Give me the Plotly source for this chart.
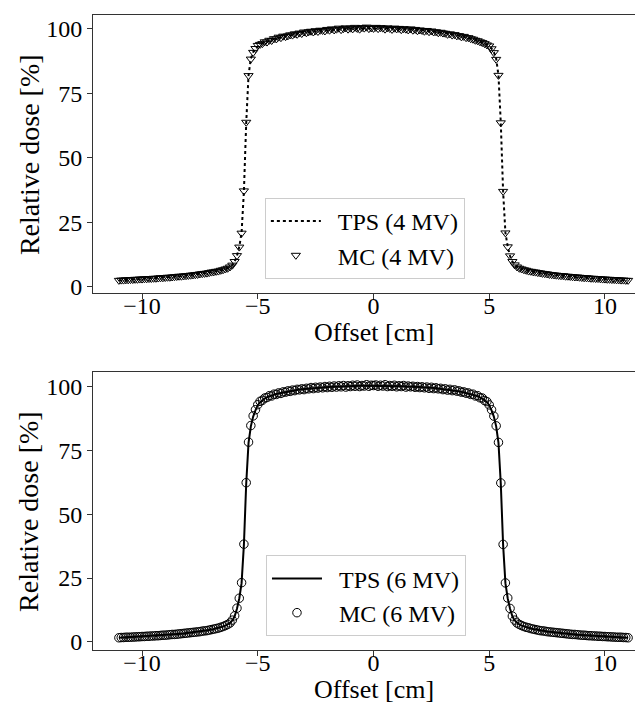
import numpy as np
import plotly.graph_objects as go

# Sampling grid of the profiles (cm), 0.1 cm spacing from -11 to 11
offset_cm = np.round(np.arange(-110, 111) / 10.0, 1)

tps_4mv = [
    2.5, 2.55, 2.6, 2.65, 2.7, 2.75, 2.8, 2.85, 2.9, 2.95,
    3.0, 3.05, 3.1, 3.16, 3.22, 3.28, 3.34, 3.4, 3.47, 3.54,
    3.6, 3.67, 3.74, 3.82, 3.9, 3.98, 4.06, 4.15, 4.24, 4.33,
    4.42, 4.52, 4.62, 4.73, 4.84, 4.96, 5.08, 5.21, 5.35, 5.5,
    5.65, 5.8, 5.97, 6.15, 6.36, 6.6, 6.88, 7.22, 7.7, 8.5,
    9.8, 12.0, 15.5, 21.0, 37.0, 63.5, 82.0, 88.5, 91.0, 92.4,
    93.3, 93.9, 94.4, 94.8, 95.2, 95.5, 95.8, 96.1, 96.4, 96.6,
    96.8, 97.0, 97.2, 97.4, 97.6, 97.8, 97.9, 98.1, 98.3, 98.4,
    98.6, 98.7, 98.8, 98.9, 99.0, 99.1, 99.2, 99.3, 99.4, 99.5,
    99.6, 99.6, 99.7, 99.7, 99.8, 99.9, 99.9, 100.0, 100.0, 100.0,
    100.1, 100.1, 100.1, 100.2, 100.2, 100.2, 100.2, 100.3, 100.3, 100.3,
    100.3,
    100.3, 100.3, 100.3, 100.2, 100.2, 100.2, 100.2, 100.1, 100.1, 100.1,
    100.0, 100.0, 100.0, 99.9, 99.9, 99.8, 99.7, 99.7, 99.6, 99.6,
    99.5, 99.4, 99.3, 99.2, 99.1, 99.0, 98.9, 98.8, 98.7, 98.6,
    98.4, 98.3, 98.1, 97.9, 97.8, 97.6, 97.4, 97.2, 97.0, 96.8,
    96.6, 96.4, 96.1, 95.8, 95.5, 95.2, 94.8, 94.4, 93.9, 93.3,
    92.4, 91.0, 88.5, 82.0, 63.5, 37.0, 21.0, 15.5, 12.0, 9.8,
    8.5, 7.7, 7.22, 6.88, 6.6, 6.36, 6.15, 5.97, 5.8, 5.65,
    5.5, 5.35, 5.21, 5.08, 4.96, 4.84, 4.73, 4.62, 4.52, 4.42,
    4.33, 4.24, 4.15, 4.06, 3.98, 3.9, 3.82, 3.74, 3.67, 3.6,
    3.54, 3.47, 3.4, 3.34, 3.28, 3.22, 3.16, 3.1, 3.05, 3.0,
    2.95, 2.9, 2.85, 2.8, 2.75, 2.7, 2.65, 2.6, 2.55, 2.5,
]

mc_4mv = [
    2.5, 2.6, 2.6, 2.7, 2.7, 2.8, 2.8, 2.9, 2.9, 3.0,
    3.0, 3.1, 3.1, 3.2, 3.2, 3.3, 3.3, 3.4, 3.5, 3.5,
    3.6, 3.7, 3.7, 3.8, 3.9, 4.0, 4.1, 4.1, 4.2, 4.3,
    4.4, 4.5, 4.6, 4.7, 4.8, 5.0, 5.1, 5.2, 5.3, 5.5,
    5.7, 5.8, 6.0, 6.1, 6.4, 6.6, 6.9, 7.2, 7.7, 8.4,
    9.8, 12.1, 15.4, 20.8, 37.2, 63.8, 81.9, 88.3, 90.9, 92.4,
    93.6, 94.0, 94.3, 95.0, 94.9, 95.6, 95.5, 96.2, 96.1, 96.8,
    96.6, 97.2, 97.0, 97.3, 97.7, 97.6, 98.1, 97.9, 98.4, 98.2,
    98.8, 98.5, 98.9, 99.1, 98.8, 99.3, 99.0, 99.5, 99.4, 99.2,
    99.8, 99.5, 100.0, 99.6, 99.9, 100.3, 99.7, 100.1, 100.4, 99.9,
    100.3, 100.0, 100.6, 100.2, 99.9, 100.5, 100.3, 100.7, 100.1, 100.4,
    100.2,
    100.6, 100.1, 100.5, 100.3, 99.9, 100.4, 100.2, 99.8, 100.3, 100.0,
    100.2, 99.7, 100.1, 99.9, 99.6, 100.0, 99.5, 99.8, 99.3, 99.6,
    99.4, 99.1, 99.4, 98.9, 99.2, 98.8, 98.9, 98.5, 98.7, 98.4,
    98.3, 97.9, 98.1, 97.6, 97.8, 97.3, 97.4, 96.9, 97.1, 96.6,
    96.6, 96.2, 96.0, 95.6, 95.4, 95.0, 94.7, 94.3, 93.8, 93.4,
    92.3, 90.8, 88.2, 82.0, 63.6, 37.0, 20.9, 15.5, 12.0, 9.8,
    8.5, 7.7, 7.2, 6.9, 6.6, 6.4, 6.1, 6.0, 5.8, 5.7,
    5.5, 5.4, 5.2, 5.1, 5.0, 4.8, 4.7, 4.6, 4.5, 4.4,
    4.3, 4.3, 4.1, 4.1, 4.0, 3.9, 3.8, 3.8, 3.7, 3.6,
    3.5, 3.5, 3.4, 3.3, 3.3, 3.2, 3.2, 3.1, 3.0, 3.0,
    2.9, 2.9, 2.8, 2.8, 2.7, 2.7, 2.6, 2.6, 2.5, 2.5,
]

tps_6mv = [
    1.6, 1.65, 1.7, 1.74, 1.78, 1.82, 1.86, 1.9, 1.95, 2.0,
    2.05, 2.1, 2.15, 2.2, 2.26, 2.32, 2.38, 2.44, 2.5, 2.57,
    2.64, 2.71, 2.78, 2.86, 2.94, 3.02, 3.1, 3.19, 3.28, 3.38,
    3.48, 3.58, 3.69, 3.8, 3.92, 4.04, 4.17, 4.3, 4.45, 4.6,
    4.8, 5.0, 5.2, 5.45, 5.7, 6.0, 6.35, 6.8, 7.4, 8.4,
    10.0, 13.0, 17.0, 23.0, 38.0, 62.0, 78.0, 84.5, 88.3, 90.8,
    92.8, 94.0, 94.8, 95.4, 95.9, 96.3, 96.6, 96.9, 97.2, 97.4,
    97.6, 97.8, 98.0, 98.2, 98.4, 98.5, 98.7, 98.8, 98.9, 99.0,
    99.1, 99.2, 99.3, 99.4, 99.5, 99.6, 99.6, 99.7, 99.8, 99.8,
    99.9, 99.9, 100.0, 100.0, 100.1, 100.1, 100.1, 100.2, 100.2, 100.2,
    100.3, 100.3, 100.3, 100.3, 100.4, 100.4, 100.4, 100.4, 100.4, 100.4,
    100.4,
    100.4, 100.4, 100.4, 100.4, 100.4, 100.4, 100.3, 100.3, 100.3, 100.3,
    100.2, 100.2, 100.2, 100.1, 100.1, 100.1, 100.0, 100.0, 99.9, 99.9,
    99.8, 99.8, 99.7, 99.6, 99.6, 99.5, 99.4, 99.3, 99.2, 99.1,
    99.0, 98.9, 98.8, 98.7, 98.5, 98.4, 98.2, 98.0, 97.8, 97.6,
    97.4, 97.2, 96.9, 96.6, 96.3, 95.9, 95.4, 94.8, 94.0, 92.8,
    90.8, 88.3, 84.5, 78.0, 62.0, 38.0, 23.0, 17.0, 13.0, 10.0,
    8.4, 7.4, 6.8, 6.35, 6.0, 5.7, 5.45, 5.2, 5.0, 4.8,
    4.6, 4.45, 4.3, 4.17, 4.04, 3.92, 3.8, 3.69, 3.58, 3.48,
    3.38, 3.28, 3.19, 3.1, 3.02, 2.94, 2.86, 2.78, 2.71, 2.64,
    2.57, 2.5, 2.44, 2.38, 2.32, 2.26, 2.2, 2.15, 2.1, 2.05,
    2.0, 1.95, 1.9, 1.86, 1.82, 1.78, 1.74, 1.7, 1.65, 1.6,
]

mc_6mv = [
    1.6, 1.7, 1.7, 1.8, 1.8, 1.8, 1.9, 1.9, 2.0, 2.0,
    2.1, 2.1, 2.2, 2.2, 2.3, 2.3, 2.4, 2.4, 2.5, 2.6,
    2.6, 2.7, 2.8, 2.9, 2.9, 3.0, 3.1, 3.2, 3.3, 3.4,
    3.5, 3.6, 3.7, 3.8, 3.9, 4.0, 4.2, 4.3, 4.4, 4.6,
    4.8, 5.0, 5.2, 5.4, 5.7, 6.0, 6.4, 6.8, 7.4, 8.5,
    10.2, 13.2, 17.1, 23.2, 38.3, 62.4, 78.3, 84.8, 88.6, 91.0,
    93.0, 94.3, 94.7, 95.6, 95.8, 96.5, 96.4, 97.1, 97.0, 97.6,
    97.4, 98.0, 97.9, 98.4, 98.2, 98.7, 98.5, 99.0, 98.8, 99.2,
    98.9, 99.4, 99.2, 99.7, 99.3, 99.8, 99.5, 99.9, 99.6, 100.1,
    99.7, 100.2, 99.8, 100.3, 99.9, 100.4, 100.0, 100.5, 99.9, 100.4,
    100.1, 100.6, 100.2, 100.7, 100.1, 100.5, 100.3, 100.8, 100.2, 100.6,
    100.5,
    100.7, 100.2, 100.6, 100.3, 100.8, 100.1, 100.5, 100.2, 100.6, 100.0,
    100.4, 100.1, 100.5, 99.9, 100.3, 100.0, 100.2, 99.8, 100.1, 99.7,
    100.0, 99.6, 99.9, 99.4, 99.8, 99.3, 99.6, 99.2, 99.4, 98.9,
    99.2, 98.7, 99.0, 98.5, 98.8, 98.3, 98.4, 97.9, 98.0, 97.5,
    97.6, 97.0, 97.1, 96.4, 96.5, 95.7, 95.6, 94.6, 94.2, 92.9,
    91.0, 88.5, 84.7, 78.2, 62.3, 38.2, 23.1, 17.2, 13.1, 10.1,
    8.5, 7.4, 6.8, 6.4, 6.0, 5.7, 5.5, 5.2, 5.0, 4.8,
    4.6, 4.4, 4.3, 4.2, 4.0, 3.9, 3.8, 3.7, 3.6, 3.5,
    3.4, 3.3, 3.2, 3.1, 3.0, 2.9, 2.9, 2.8, 2.7, 2.6,
    2.6, 2.5, 2.4, 2.4, 2.3, 2.3, 2.2, 2.2, 2.1, 2.1,
    2.0, 2.0, 1.9, 1.9, 1.8, 1.8, 1.8, 1.7, 1.7, 1.6,
]

x_ticks = [-10, -5, 0, 5, 10]
y_ticks = [0, 25, 50, 75, 100]
x_label = "Offset [cm]"
y_label = "Relative dose [%]"
NB = "\u00a0\u00a0"

FONT = "Liberation Serif, Times New Roman, serif"
AX = "#333333"
TICK_SIZE = 24
XLABEL_SIZE = 26
YLABEL_SIZE = 28
LEGEND_SIZE = 24

fig = go.Figure()
fig.add_trace(go.Scatter(x=offset_cm, y=tps_4mv, mode="lines", name=NB + "TPS (4 MV)",
                         line=dict(color="black", width=2, dash="dot"),
                         xaxis="x", yaxis="y", legend="legend"))
fig.add_trace(go.Scatter(x=offset_cm, y=mc_4mv, mode="markers", name=NB + "MC (4 MV)",
                         marker=dict(symbol="triangle-down-open", size=8, color="black",
                                     line=dict(width=1, color="black")),
                         xaxis="x", yaxis="y", legend="legend"))
fig.add_trace(go.Scatter(x=offset_cm, y=tps_6mv, mode="lines", name=NB + "TPS (6 MV)",
                         line=dict(color="black", width=2),
                         xaxis="x2", yaxis="y2", legend="legend2"))
fig.add_trace(go.Scatter(x=offset_cm, y=mc_6mv, mode="markers", name=NB + "MC (6 MV)",
                         marker=dict(symbol="circle-open", size=8.5, color="black",
                                     line=dict(width=1, color="black")),
                         xaxis="x2", yaxis="y2", legend="legend2"))

def xax(anchor):
    return dict(range=[-12.12, 11.99], tickvals=x_ticks, ticks="outside", ticklen=5,
                tickcolor=AX, tickwidth=1, showline=True, linecolor=AX, linewidth=1,
                mirror=True, showgrid=False, zeroline=False, anchor=anchor,
                ticklabelstandoff=-14,
                tickfont=dict(family=FONT, size=TICK_SIZE, color="black"))

def yax(anchor, rng, dom):
    return dict(range=rng, domain=dom, tickvals=y_ticks, ticks="outside", ticklen=5,
                tickcolor=AX, tickwidth=1, showline=True, linecolor=AX, linewidth=1,
                mirror=False, showgrid=False, zeroline=False, anchor=anchor,
                tickfont=dict(family=FONT, size=TICK_SIZE, color="black"))

leg_common = dict(bgcolor="white", bordercolor="#cccccc", borderwidth=1,
                  font=dict(family=FONT, size=LEGEND_SIZE, color="black"),
                  xanchor="left", yanchor="top", itemwidth=50, tracegroupgap=0)

xt_font = dict(family=FONT, size=XLABEL_SIZE, color="black")
yt_font = dict(family=FONT, size=YLABEL_SIZE, color="black")
annotations = [
    dict(text=x_label, xref="x", yref="paper", x=0, y=0.500, showarrow=False,
         xanchor="center", yanchor="middle", font=xt_font),
    dict(text=x_label, xref="x2", yref="paper", x=0, y=-0.0615, showarrow=False,
         xanchor="center", yanchor="middle", font=xt_font),
    dict(text=y_label, xref="paper", yref="paper", x=-0.1147, y=0.781, showarrow=False,
         xanchor="center", yanchor="middle", textangle=-90, font=yt_font),
    dict(text=y_label, xref="paper", yref="paper", x=-0.1147, y=0.219, showarrow=False,
         xanchor="center", yanchor="middle", textangle=-90, font=yt_font),
]

fig.update_layout(
    width=643, height=704,
    margin=dict(l=85, r=0, t=7, b=62, autoexpand=False),
    paper_bgcolor="white", plot_bgcolor="white",
    xaxis=xax("y"), yaxis=yax("x", [-2.4, 105.4], [0.5622, 1.0]),
    xaxis2=xax("y2"), yaxis2=yax("x2", [-3.2, 105.8], [0.0, 0.4378]),
    legend=dict(x=0.308, y=0.7118, **leg_common),
    legend2=dict(x=0.310, y=0.149, **leg_common),
    annotations=annotations,
    showlegend=True,
)

fig.write_html("out.html")
